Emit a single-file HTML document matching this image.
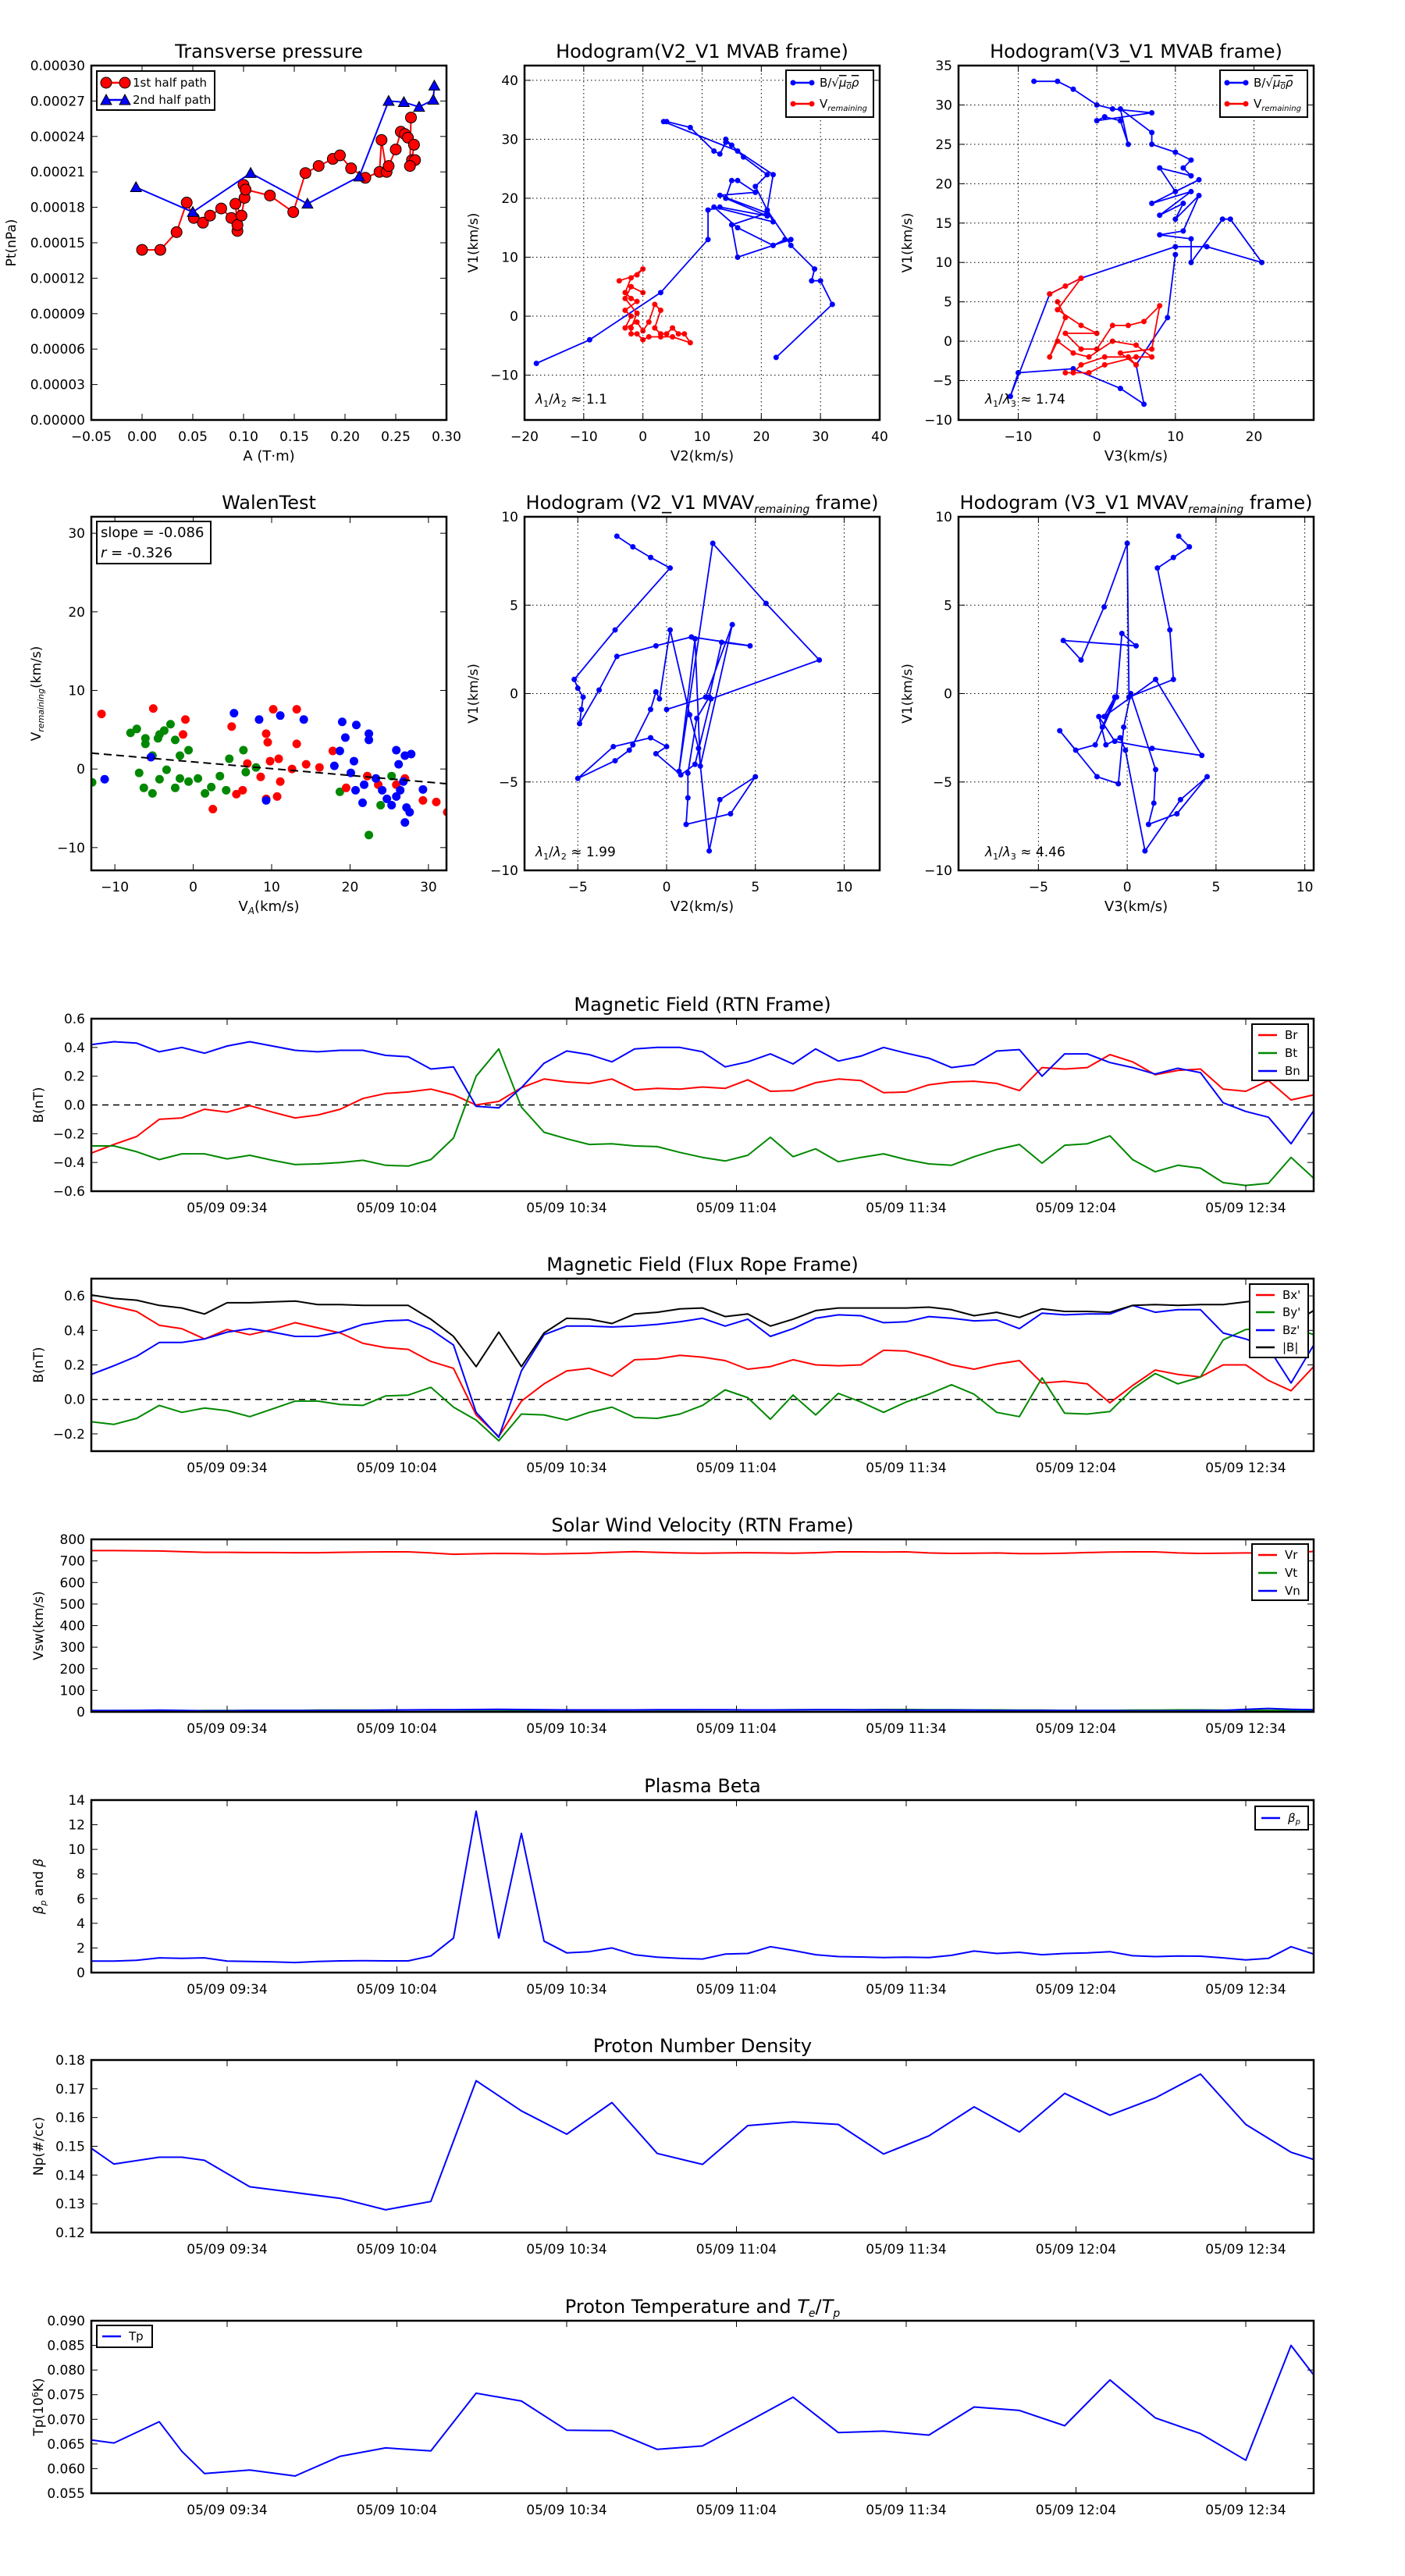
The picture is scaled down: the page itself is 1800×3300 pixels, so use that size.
<!DOCTYPE html>
<html><head><meta charset="utf-8"><style>
html,body{margin:0;padding:0;background:#fff}
svg{display:block;font-family:"DejaVu Sans","Liberation Sans",sans-serif}
</style></head><body>
<svg id="fig" xmlns="http://www.w3.org/2000/svg" width="1800" height="3300" viewBox="0 0 1800 3300">
<rect x="0" y="0" width="1800" height="3300" fill="#fff"/>
</svg>
<script>
// ---------- data ----------
const pt1A=[0.0,0.018,0.034,0.044,0.051,0.060,0.067,0.078,0.088,0.094,0.094,0.092,0.098,0.101,0.100,0.102,0.126,0.149,0.161,0.174,0.188,0.195,0.206,0.220,0.234,0.236,0.241,0.243,0.250,0.255,0.259,0.262,0.268,0.266,0.269,0.264,0.265];
const pt1P=[0.000144,0.000144,0.000159,0.000184,0.000171,0.000167,0.000173,0.000179,0.000171,0.000160,0.000165,0.000183,0.000173,0.000188,0.000199,0.000195,0.000190,0.000176,0.000209,0.000215,0.000221,0.000224,0.000213,0.000205,0.000210,0.000237,0.000210,0.000215,0.000229,0.000244,0.000242,0.000239,0.000233,0.000220,0.000220,0.000215,0.000256];
const pt2A=[-0.006,0.050,0.107,0.163,0.214,0.243,0.258,0.273,0.287,0.288];
const pt2P=[0.000197,0.000176,0.000209,0.000183,0.000206,0.000270,0.000269,0.000265,0.000271,0.000283];

const h2BV2=[-18,-9,3,11,11,13,21,14,15,16,19,13,21,15,16,22,24,25,22,16,12,22,19,21,17,14,15,14,13,12,8,4,3.5,16,22,21,25,29,28.5,30,32,22.5];
const h2BV1=[-8,-4,4,13,18,18.5,17,20,23,23,21,20.5,17.5,15.5,10,12,13,13,12,15,18.5,16,22,24,27,30,29,29.5,27.5,28,32,33,33,28,24,18,12,8,6,6,2,-7];
const h2VV2=[-4,-1,0,-2,-3,-2,-1,-3,-2,-3,-1,0,1,2,3,2,3,4,5,6,7,8,5,3,1,0,-1,-2,-2,-1,-3,-2,0];
const h2VV1=[6,7,8,6.5,4,3,2.5,1,0,-2,-1,-2.5,-1,2,1,-2,-3,-3,-2,-3,-3,-4.5,-3.5,-3.5,-3.5,-4,-3,-3,-2,0.5,3,5,4];

const h3BV3=[-8,-5,-3,0,2,7,0,1,3,4,3,7,7,10,12,11,12,8,10,13,7,12,8,11,10,13,11,8,12,12,16,17,21,14,10,-2,-6,-11,-10,-3,3,6,5,9,10];
const h3BV1=[33,33,32,30,29.5,29,28,28.5,28,25,29.5,26.5,25,24,23,22,21,22,19,20.5,17.5,19,16,17.5,15.5,18.5,14,13.5,13,10,15.5,15.5,10,12,12,8,6,-7,-4,-3.5,-6,-8,-3,3,11];
const h3VV3=[-6,-4,-2,-5,-2,0,-4,-2,0,2,4,6,8,7,3,5,4,1,-2,-3,-4,-1,1,5,7,5,2,-1,-3,-5,-6,-4,-5];
const h3VV1=[6,7,8,4,2,1,1,-1,-1,2,2,2.5,4.5,-1,-1.5,-3,-2,-2,-3,-4,-4,-4,-3,-2,-2,-0.5,0,-2,-1.5,0,-2,3,5];

const walGX=[-12.9,-8,-7.2,-6.1,-6.1,-4.3,-3.7,-2.9,-2.3,-1.7,-0.6,-4.5,-5.2,-6.9,-6.3,-5.2,-4.3,-3.4,-2.3,-1.7,-0.6,0.6,1.5,2.3,3.4,4.2,4.6,6.4,6.7,8,18.7,22.4,23.9,25.3];
const walGY=[-1.7,4.6,5.1,3.2,3.9,4.4,4.9,5.7,3.7,1.7,2.4,3.9,1.7,-0.5,-2.4,-3.1,-1.3,-0.1,-2.4,-1.2,-1.6,-1.2,-3.1,-2.3,-0.9,-2.7,1.3,2.4,-0.4,0.2,-2.9,-8.4,-4.6,-0.9];
const walRX=[-11.7,-5.1,-1.3,-1,2.5,4.9,5.5,6.3,6.9,9.3,9.5,10.2,9.8,10.9,11.1,10.7,12.6,13.2,13.2,14.4,16.1,17.8,19.5,22.2,23.6,25.9,27,29.3,31,32.4,8.6,9.3];
const walRY=[7,7.7,4.4,6.3,-5.1,5.4,-3.2,-2.7,0.7,4.5,3.4,7.6,1,1.3,-1.6,-3.5,0,3.2,7.6,0.6,0.2,2.3,-2.4,-0.9,-2,-2,-1.2,-4,-4.2,-5.5,-1,-3.8];
const walBX=[-11.3,-5.4,5.2,8.4,11.1,14.1,9.3,19,20.8,19.4,22.4,22.4,18.7,18,20.1,20.5,21.8,23.3,24.1,24.7,25.3,25.9,26.4,26.8,27.2,25.9,27,27.8,26.2,27,27.6,29.3,21.6,20.7];
const walBY=[-1.3,1.5,7.1,6.3,6.8,6.3,-4,6,5.6,4,4.5,3.7,2.3,0.4,-0.5,1,-2,-1.2,-2.7,-3.8,-4.6,-3.5,-2.7,-1.6,-4.9,2.4,1.7,1.9,0.6,-6.8,-5.5,-2.6,-4.3,-2.7];
const walSlope=-0.086, walIntercept=0.9;

const h5X=[-2.8,-1.9,-0.9,0.2,-2.9,-5.2,-5,-4.7,-4.8,-4.9,-3.8,-2.8,-0.6,1.4,4.7,3.1,2.4,1.7,1.2,1.2,1.1,3.6,5,3,2.4,1.8,1.3,0.2,-0.4,-0.6,-0.9,-1.9,-2.1,-2.9,-5,-3,-0.9,0,-0.6,0.8,1.6,2.5,8.6,5.6,2.6,0.7,1.6,1.9,3.7,2.2,0];
const h5Y=[8.9,8.3,7.7,7.1,3.6,0.8,0.3,-0.2,-0.9,-1.7,0.2,2.1,2.7,3.2,2.7,2.9,-0.2,-1.4,-4.5,-5.9,-7.4,-6.8,-4.7,-6,-8.9,-3.1,-1.2,3.6,-0.3,0.1,-0.9,-2.9,-3.2,-3.8,-4.8,-3,-2.5,-3,-3.4,-4.6,-4,-0.3,1.9,5.1,8.5,-4.4,3.1,-4.1,3.9,-0.2,-0.9];
const h6X=[2.9,3.5,2.6,1.7,2.4,2.6,0.1,0,-1.3,-2.6,-3.6,0.5,-0.3,-0.6,-1.8,-2.9,-3.8,-1.7,-0.5,-0.2,0.2,1.6,1.5,1.2,2.8,4.5,3,1,-0.1,-0.4,-1.2,-1.6,-0.7,1.4,4.2,1.6,-1.3,-0.7,-1.4];
const h6Y=[8.9,8.3,7.7,7.1,3.6,0.8,-0.2,8.5,4.9,1.9,3,2.7,3.4,-0.2,-2.9,-3.2,-2.1,-4.7,-5.1,-1.9,0,-4.3,-6.2,-7.4,-6.8,-4.7,-6,-8.9,-3.2,-2.5,-2.9,-1.3,-2.7,-3.1,-3.5,0.8,-1.3,-0.2,-1.9];

// time series (minutes after 09:10)
const magT=[0,4,8,12,16,20,24,28,32,36,40,44,48,52,56,60,64,68,72,76,80,84,88,92,96,100,104,108,112,116,120,124,128,132,136,140,144,148,152,156,160,164,168,172,176,180,184,188,192,196,200,204,208,212,216];
const Br=[-0.335,-0.275,-0.22,-0.10,-0.09,-0.03,-0.05,-0.005,-0.05,-0.09,-0.07,-0.03,0.045,0.08,0.09,0.11,0.07,0.0,0.025,0.12,0.18,0.16,0.15,0.18,0.105,0.115,0.11,0.125,0.115,0.175,0.095,0.10,0.155,0.18,0.17,0.085,0.09,0.14,0.16,0.165,0.15,0.10,0.26,0.25,0.26,0.35,0.30,0.21,0.24,0.25,0.11,0.095,0.17,0.035,0.07];
const Bt=[-0.285,-0.285,-0.325,-0.38,-0.34,-0.34,-0.375,-0.35,-0.385,-0.415,-0.41,-0.40,-0.385,-0.42,-0.425,-0.38,-0.23,0.20,0.39,-0.015,-0.19,-0.235,-0.275,-0.27,-0.285,-0.29,-0.33,-0.365,-0.39,-0.35,-0.225,-0.36,-0.305,-0.395,-0.365,-0.34,-0.38,-0.41,-0.42,-0.36,-0.31,-0.275,-0.405,-0.28,-0.27,-0.215,-0.38,-0.465,-0.42,-0.44,-0.54,-0.56,-0.545,-0.365,-0.51];
const Bn=[0.42,0.44,0.43,0.37,0.40,0.36,0.41,0.44,0.41,0.38,0.37,0.38,0.38,0.345,0.335,0.25,0.265,-0.01,-0.02,0.12,0.29,0.375,0.35,0.30,0.39,0.40,0.40,0.37,0.265,0.30,0.355,0.285,0.39,0.305,0.34,0.40,0.36,0.325,0.26,0.28,0.375,0.385,0.20,0.355,0.355,0.295,0.26,0.215,0.255,0.225,0.015,-0.045,-0.085,-0.27,-0.04];
const Bx=[0.575,0.54,0.51,0.43,0.41,0.35,0.405,0.375,0.405,0.445,0.415,0.385,0.325,0.30,0.29,0.22,0.18,-0.09,-0.215,-0.01,0.09,0.165,0.18,0.135,0.23,0.235,0.255,0.245,0.225,0.175,0.19,0.23,0.20,0.195,0.20,0.285,0.28,0.245,0.20,0.175,0.205,0.225,0.095,0.105,0.09,-0.02,0.08,0.17,0.145,0.13,0.20,0.20,0.11,0.05,0.19];
const By=[-0.13,-0.145,-0.11,-0.035,-0.075,-0.05,-0.065,-0.10,-0.055,-0.01,-0.01,-0.03,-0.035,0.02,0.025,0.07,-0.045,-0.12,-0.24,-0.085,-0.09,-0.12,-0.075,-0.045,-0.105,-0.11,-0.085,-0.035,0.055,0.01,-0.115,0.025,-0.09,0.035,-0.015,-0.075,-0.015,0.03,0.085,0.03,-0.075,-0.10,0.125,-0.08,-0.085,-0.07,0.06,0.15,0.09,0.13,0.345,0.405,0.415,0.42,0.375];
const Bz=[0.145,0.195,0.25,0.33,0.33,0.35,0.39,0.41,0.39,0.365,0.365,0.39,0.435,0.455,0.46,0.405,0.315,-0.075,-0.22,0.165,0.375,0.425,0.425,0.42,0.425,0.435,0.45,0.47,0.425,0.465,0.365,0.41,0.47,0.49,0.485,0.445,0.45,0.48,0.47,0.455,0.46,0.41,0.50,0.49,0.495,0.495,0.545,0.505,0.52,0.52,0.385,0.35,0.30,0.095,0.315];
const Bmag=[0.605,0.585,0.575,0.545,0.53,0.495,0.56,0.56,0.565,0.57,0.55,0.55,0.545,0.545,0.545,0.465,0.365,0.19,0.39,0.19,0.385,0.47,0.465,0.44,0.495,0.505,0.525,0.53,0.48,0.495,0.425,0.465,0.515,0.53,0.53,0.53,0.53,0.535,0.52,0.485,0.505,0.475,0.525,0.51,0.51,0.505,0.545,0.55,0.545,0.55,0.55,0.565,0.58,0.435,0.515];
const Vr=[748,748,747,746,743,740,740,739,739,738,738,740,741,742,742,737,731,733,735,734,732,734,736,740,743,740,737,736,737,738,737,736,738,742,742,741,742,737,735,736,737,734,734,736,739,741,742,742,737,735,736,737,736,738,744];
const Vt=[4,4,4,5,5,6,6,7,7,7,8,8,8,8,9,9,9,8,8,7,7,7,7,8,8,8,8,9,9,9,9,10,10,10,10,11,11,10,10,9,9,8,8,7,7,7,8,8,9,9,8,7,7,6,6];
const Vn=[6,6,7,8,7,5,5,6,6,6,6,7,7,8,9,10,10,11,12,11,10,9,9,9,9,10,10,10,10,9,9,9,10,10,9,9,8,8,8,8,7,7,7,6,6,6,5,5,5,6,7,12,16,12,10];
const betaP=[0.93,0.93,1.0,1.2,1.15,1.2,0.93,0.9,0.87,0.82,0.9,0.95,0.97,0.95,0.95,1.35,2.8,13.1,2.8,11.3,2.55,1.6,1.7,2.0,1.45,1.25,1.15,1.1,1.5,1.55,2.1,1.8,1.45,1.3,1.27,1.22,1.25,1.22,1.4,1.75,1.55,1.65,1.45,1.55,1.6,1.7,1.37,1.3,1.35,1.33,1.2,1.03,1.15,2.1,1.5];
const npT=[0,4,12,16,20,28,36,44,52,60,68,76,84,92,100,108,116,124,132,140,148,156,164,172,180,188,196,204,212,216];
const Np=[0.1493,0.1438,0.1462,0.1462,0.1451,0.1359,0.1339,0.1319,0.1279,0.1308,0.1728,0.1623,0.1542,0.1652,0.1475,0.1437,0.1572,0.1585,0.1576,0.1473,0.1536,0.1637,0.155,0.1684,0.1608,0.1668,0.1751,0.1576,0.1479,0.1454];
const Tp=[0.0658,0.0652,0.0695,0.0635,0.059,0.0597,0.0585,0.0625,0.0642,0.0636,0.0753,0.0737,0.0678,0.0677,0.0639,0.0646,0.0695,0.0745,0.0673,0.0676,0.0668,0.0725,0.0718,0.0687,0.078,0.0703,0.0671,0.0617,0.085,0.079];
const timeTicks=[24,54,84,114,144,174,204];
const timeTickLabels=["05/09 09:34","05/09 10:04","05/09 10:34","05/09 11:04","05/09 11:34","05/09 12:04","05/09 12:34"];

// ---------- helpers ----------
const NS='http://www.w3.org/2000/svg';
const svg=document.getElementById('fig');
function mk(tag,attrs,parent){const e=document.createElementNS(NS,tag);for(const k in attrs)e.setAttribute(k,attrs[k]);(parent||svg).appendChild(e);return e;}
function txt(s,attrs,parent){const e=mk('text',attrs,parent);e.textContent=s;return e;}
function fm(v,d){const s=Math.abs(v).toFixed(d);return (v<0&&parseFloat(s)!==0?'\u2212':'')+s;}
let clipN=0;

function makeAxes(o){
  const g=mk('g',{});
  
  
  const X=v=>o.x0+(v-o.xmin)/(o.xmax-o.xmin)*o.w;
  const Y=v=>o.y0+o.h-(v-o.ymin)/(o.ymax-o.ymin)*o.h;
  const cid='clip'+(clipN++);
  const cp=mk('clipPath',{id:cid},g);
  mk('rect',{x:o.x0,y:o.y0,width:o.w,height:o.h},cp);
  const plot=mk('g',{'clip-path':'url(#'+cid+')'},g);
  
  
  return {o,g,X,Y,plot};
}
function finishAxes(ax){
  const o=ax.o,g=ax.g;
  (o.xticks||[]).forEach((v,i)=>{
    const x=ax.X(v);
    if(o.grid){const gl=mk('line',{x1:x,x2:x,y1:o.y0,y2:o.y0+o.h,stroke:'#000','stroke-width':1,'stroke-dasharray':'1.5,3.5'},g);
      }
    const t1=mk('line',{x1:x,x2:x,y1:o.y0+o.h,y2:o.y0+o.h-8,stroke:'#000','stroke-width':1},g);
    
    const t2=mk('line',{x1:x,x2:x,y1:o.y0,y2:o.y0+8,stroke:'#000','stroke-width':1},g);
    
    const lb=txt(o.xlabels[i],{x:x,y:o.y0+o.h+27,'text-anchor':'middle','font-size':17},g);
    
  });
  (o.yticks||[]).forEach((v,i)=>{
    const y=ax.Y(v);
    if(o.grid){const gl=mk('line',{x1:o.x0,x2:o.x0+o.w,y1:y,y2:y,stroke:'#000','stroke-width':1,'stroke-dasharray':'1.5,3.5'},g);
      }
    const t1=mk('line',{x1:o.x0,x2:o.x0+8,y1:y,y2:y,stroke:'#000','stroke-width':1},g);
    
    const t2=mk('line',{x1:o.x0+o.w,x2:o.x0+o.w-8,y1:y,y2:y,stroke:'#000','stroke-width':1},g);
    
    const lb=txt(o.ylabels[i],{x:o.x0-8,y:y+6,'text-anchor':'end','font-size':17},g);
    
  });
  const fr=mk('rect',{x:o.x0,y:o.y0,width:o.w,height:o.h,fill:'none',stroke:'#000','stroke-width':2.5},g);
  
  if(o.title){const t=txt('',{x:o.x0+o.w/2,y:o.y0-10,'text-anchor':'middle','font-size':24},g);
    t.innerHTML=o.title;
    }
  if(o.xlabel){const t=txt('',{x:o.x0+o.w/2,y:o.y0+o.h+o.xlabOff,'text-anchor':'middle','font-size':18},g);
    t.innerHTML=o.xlabel;
    }
  if(o.ylabel){const yl=o.ylabX, yc=o.y0+o.h/2;
    const t=txt('',{x:yl,y:yc,'text-anchor':'middle','font-size':17,transform:'rotate(-90 '+yl+' '+yc+')'},g);
    t.innerHTML=o.ylabel;
    }
}
function line(ax,xs,ys,color,name,w){
  const d=xs.map((x,i)=>(i?'L':'M')+ax.X(x).toFixed(1)+','+ax.Y(ys[i]).toFixed(1)).join('');
  const p=mk('path',{d:d,fill:'none',stroke:color,'stroke-width':w||2,'stroke-linejoin':'round'},ax.plot);
  
  
  return p;
}
function dots(ax,xs,ys,color,r,name,stroke){
  xs.forEach((x,i)=>{
    const c=mk('circle',{cx:ax.X(x),cy:ax.Y(ys[i]),r:r,fill:color,stroke:stroke||'none','stroke-width':1},ax.plot);
    
    
  });
}
function tris(ax,xs,ys,color,s,name){
  xs.forEach((x,i)=>{
    const cx=ax.X(x),cy=ax.Y(ys[i]);
    const p=mk('polygon',{points:`${cx},${cy-s} ${cx-s},${cy+s*0.8} ${cx+s},${cy+s*0.8}`,fill:color,stroke:'#000','stroke-width':1},ax.plot);
    
    
  });
}
function legendBox(x,y,w,h,name){
  const r=mk('rect',{x:x,y:y,width:w,height:h,fill:'#fff',stroke:'#000','stroke-width':2});
  
  
}
function legendEntry(x,y,color,label,marker){
  const l=mk('line',{x1:x,x2:x+24,y1:y,y2:y,stroke:color,'stroke-width':2.5});
  
  
  if(marker==='dot'){[x,x+24].forEach(cx=>{const c=mk('circle',{cx:cx,cy:y,r:3.5,fill:color});
    });}
  if(marker==='circ'){[x,x+24].forEach(cx=>{const c=mk('circle',{cx:cx,cy:y,r:7,fill:color,stroke:'#000'});
    });}
  if(marker==='tri'){[x,x+24].forEach(cx=>{const p=mk('polygon',{points:`${cx},${y-7} ${cx-7},${y+6} ${cx+7},${y+6}`,fill:color,stroke:'#000'});
    });}
  const t=txt('',{x:x+34,y:y+5,'font-size':15});
  t.innerHTML=label;
  
  
}
function ticksRange(a,b,s){const r=[];for(let v=a;v<=b+1e-9;v+=s)r.push(+v.toFixed(6));return r;}

// ---------- panel 1: transverse pressure ----------
{
 const yt=ticksRange(0,0.0003,0.00003);
 const xt=ticksRange(-0.05,0.30,0.05);
 const ax=makeAxes({name:'transverse-pressure-chart',x0:117,y0:84,w:455,h:454,xmin:-0.05,xmax:0.30,ymin:0,ymax:0.0003,
   xticks:xt,xlabels:xt.map(v=>fm(v,2)),yticks:yt,ylabels:yt.map(v=>v.toFixed(5)),
   title:'Transverse pressure',xlabel:'A (T·m)',xlabOff:52,ylabel:'Pt(nPa)',ylabX:20});
 line(ax,pt1A,pt1P,'#f00','first-half-path-line',2);
 dots(ax,pt1A,pt1P,'#f00',7,'first-half-point','#000');
 line(ax,pt2A,pt2P,'#00f','second-half-path-line',2);
 tris(ax,pt2A,pt2P,'#00f',7,'second-half-point');
 finishAxes(ax);
 legendBox(124,91,151,50,'pressure-legend');
 legendEntry(136,106,'#f00','1st half path','circ');
 legendEntry(136,128,'#00f','2nd half path','tri');
}
const legB='B/√<tspan text-decoration="overline" font-style="italic">μ<tspan font-size="10" dy="3">0</tspan><tspan dy="-3">ρ</tspan></tspan>';
const legV='V<tspan font-size="10" font-style="italic" dy="4">remaining</tspan>';
// ---------- panel 2 ----------
{
 const xt=ticksRange(-20,40,10), yt=ticksRange(-10,40,10);
 const ax=makeAxes({name:'hodogram-v2-v1-mvab',x0:672,y0:84,w:455,h:454,xmin:-20,xmax:40,ymin:-17.6,ymax:42.5,grid:true,
   xticks:xt,xlabels:xt.map(v=>fm(v,0)),yticks:yt,ylabels:yt.map(v=>fm(v,0)),
   title:'Hodogram(V2_V1 MVAB frame)',xlabel:'V2(km/s)',xlabOff:52,ylabel:'V1(km/s)',ylabX:612});
 line(ax,h2BV2,h2BV1,'#00f','b-field-hodogram-line',1.8);
 dots(ax,h2BV2,h2BV1,'#00f',3.5,'b-field-point');
 line(ax,h2VV2,h2VV1,'#f00','v-remaining-hodogram-line',1.8);
 dots(ax,h2VV2,h2VV1,'#f00',3.5,'v-remaining-point');
 finishAxes(ax);
 const a=txt('',{x:686,y:517,'font-size':17});a.innerHTML='<tspan font-style="italic">λ</tspan><tspan font-size="11" dy="4">1</tspan><tspan dy="-4">/</tspan><tspan font-style="italic">λ</tspan><tspan font-size="11" dy="4">2</tspan><tspan dy="-4"> ≈ 1.1</tspan>';
 
 legendBox(1007,90,112,60,'hodogram-legend');
 legendEntry(1016,106,'#00f',legB,'dot');
 legendEntry(1016,133,'#f00',legV,'dot');
}
// ---------- panel 3 ----------
{
 const xt=ticksRange(-10,20,10), yt=ticksRange(-10,35,5);
 const ax=makeAxes({name:'hodogram-v3-v1-mvab',x0:1228,y0:84,w:455,h:454,xmin:-17.6,xmax:27.6,ymin:-10,ymax:35,grid:true,
   xticks:xt,xlabels:xt.map(v=>fm(v,0)),yticks:yt,ylabels:yt.map(v=>fm(v,0)),
   title:'Hodogram(V3_V1 MVAB frame)',xlabel:'V3(km/s)',xlabOff:52,ylabel:'V1(km/s)',ylabX:1168});
 line(ax,h3BV3,h3BV1,'#00f','b-field-hodogram-line',1.8);
 dots(ax,h3BV3,h3BV1,'#00f',3.5,'b-field-point');
 line(ax,h3VV3,h3VV1,'#f00','v-remaining-hodogram-line',1.8);
 dots(ax,h3VV3,h3VV1,'#f00',3.5,'v-remaining-point');
 finishAxes(ax);
 const a=txt('',{x:1262,y:517,'font-size':17});a.innerHTML='<tspan font-style="italic">λ</tspan><tspan font-size="11" dy="4">1</tspan><tspan dy="-4">/</tspan><tspan font-style="italic">λ</tspan><tspan font-size="11" dy="4">3</tspan><tspan dy="-4"> ≈ 1.74</tspan>';
 
 legendBox(1563,90,112,60,'hodogram-legend');
 legendEntry(1572,106,'#00f',legB,'dot');
 legendEntry(1572,133,'#f00',legV,'dot');
}
// ---------- walen test ----------
{
 const xt=ticksRange(-10,30,10), yt=ticksRange(-10,30,10);
 const ax=makeAxes({name:'walen-test-chart',x0:117,y0:662,w:455,h:453,xmin:-13,xmax:32.3,ymin:-12.9,ymax:32.1,
   xticks:xt,xlabels:xt.map(v=>fm(v,0)),yticks:yt,ylabels:yt.map(v=>fm(v,0)),
   title:'WalenTest',xlabel:'V<tspan font-size="12" font-style="italic" dy="4">A</tspan><tspan dy="-4">(km/s)</tspan>',xlabOff:52,
   ylabel:'V<tspan font-size="11" font-style="italic" dy="4">remaining</tspan><tspan dy="-4">(km/s)</tspan>',ylabX:52});
 dots(ax,walGX,walGY,'#080',5.5,'walen-point-green');
 dots(ax,walRX,walRY,'#f00',5.5,'walen-point-red');
 dots(ax,walBX,walBY,'#00f',5.5,'walen-point-blue');
 const fx=[-13,32.3], fy=fx.map(v=>walSlope*v+walIntercept);
 const fl=line(ax,fx,fy,'#000','walen-fit-line',2);
 fl.setAttribute('stroke-dasharray','10,6');
 finishAxes(ax);
 legendBox(124,668,146,54,'walen-stats-box');
 const s1=txt('slope = -0.086',{x:129,y:688,'font-size':18});
 
 const s2=txt('',{x:129,y:714,'font-size':18});s2.innerHTML='<tspan font-style="italic">r</tspan> = -0.326';
 
}
// ---------- panel 5 ----------
{
 const xt=ticksRange(-5,10,5), yt=ticksRange(-10,10,5);
 const ax=makeAxes({name:'hodogram-v2-v1-mvav',x0:672,y0:662,w:455,h:453,xmin:-8,xmax:12,ymin:-10,ymax:10,grid:true,
   xticks:xt,xlabels:xt.map(v=>fm(v,0)),yticks:yt,ylabels:yt.map(v=>fm(v,0)),
   title:'Hodogram (V2_V1 MVAV<tspan font-size="14" font-style="italic" dy="5">remaining</tspan><tspan dy="-5"> frame)</tspan>',ylabel:'V1(km/s)',ylabX:612,
   xlabel:'V2(km/s)',xlabOff:52});
 line(ax,h5X,h5Y,'#00f','hodogram-line',1.8);
 dots(ax,h5X,h5Y,'#00f',3.5,'hodogram-point');
 finishAxes(ax);
 const a=txt('',{x:686,y:1097,'font-size':17});a.innerHTML='<tspan font-style="italic">λ</tspan><tspan font-size="11" dy="4">1</tspan><tspan dy="-4">/</tspan><tspan font-style="italic">λ</tspan><tspan font-size="11" dy="4">2</tspan><tspan dy="-4"> ≈ 1.99</tspan>';
 
}
// ---------- panel 6 ----------
{
 const xt=ticksRange(-5,10,5), yt=ticksRange(-10,10,5);
 const ax=makeAxes({name:'hodogram-v3-v1-mvav',x0:1228,y0:662,w:455,h:453,xmin:-9.5,xmax:10.5,ymin:-10,ymax:10,grid:true,
   xticks:xt,xlabels:xt.map(v=>fm(v,0)),yticks:yt,ylabels:yt.map(v=>fm(v,0)),
   title:'Hodogram (V3_V1 MVAV<tspan font-size="14" font-style="italic" dy="5">remaining</tspan><tspan dy="-5"> frame)</tspan>',ylabel:'V1(km/s)',ylabX:1168,
   xlabel:'V3(km/s)',xlabOff:52});
 line(ax,h6X,h6Y,'#00f','hodogram-line',1.8);
 dots(ax,h6X,h6Y,'#00f',3.5,'hodogram-point');
 finishAxes(ax);
 const a=txt('',{x:1262,y:1097,'font-size':17});a.innerHTML='<tspan font-style="italic">λ</tspan><tspan font-size="11" dy="4">1</tspan><tspan dy="-4">/</tspan><tspan font-style="italic">λ</tspan><tspan font-size="11" dy="4">3</tspan><tspan dy="-4"> ≈ 4.46</tspan>';
 
}
// ---------- time series ----------
function tsAxes(name,top,ymin,ymax,yt,yl,title,ylabel){
  return makeAxes({name:name,x0:117,y0:top,w:1566,h:221,xmin:0,xmax:216,ymin:ymin,ymax:ymax,
    xticks:timeTicks,xlabels:timeTickLabels,yticks:yt,ylabels:yl,title:title,ylabel:ylabel,ylabX:55});
}
function zeroLine(ax){const l=line(ax,[0,216],[0,0],'#000','zero-reference-line',1.5);l.setAttribute('stroke-dasharray','8,6');}
{
 const yt=ticksRange(-0.6,0.6,0.2);
 const ax=tsAxes('magnetic-field-rtn-chart',1305,-0.6,0.6,yt,yt.map(v=>fm(v,1)),'Magnetic Field (RTN Frame)','B(nT)');
 zeroLine(ax);
 line(ax,magT,Br,'#f00','br-line');line(ax,magT,Bt,'#080','bt-line');line(ax,magT,Bn,'#00f','bn-line');
 finishAxes(ax);
 legendBox(1604,1312,72,72,'rtn-legend');
 legendEntry(1612,1326,'#f00','Br');legendEntry(1612,1349,'#080','Bt');legendEntry(1612,1372,'#00f','Bn');
}
{
 const yt=ticksRange(-0.2,0.6,0.2);
 const ax=tsAxes('magnetic-field-flux-rope-chart',1638,-0.3,0.7,yt,yt.map(v=>fm(v,1)),'Magnetic Field (Flux Rope Frame)','B(nT)');
 zeroLine(ax);
 line(ax,magT,Bx,'#f00','bx-line');line(ax,magT,By,'#080','by-line');line(ax,magT,Bz,'#00f','bz-line');line(ax,magT,Bmag,'#000','bmag-line');
 finishAxes(ax);
 legendBox(1601,1645,75,94,'flux-rope-legend');
 legendEntry(1609,1659,'#f00',"Bx'");legendEntry(1609,1681,'#080',"By'");legendEntry(1609,1704,'#00f',"Bz'");legendEntry(1609,1726,'#000','|B|');
}
{
 const yt=ticksRange(0,800,100);
 const ax=tsAxes('solar-wind-velocity-chart',1972,0,800,yt,yt.map(v=>v.toFixed(0)),'Solar Wind Velocity (RTN Frame)','Vsw(km/s)');
 line(ax,magT,Vr,'#f00','vr-line');line(ax,magT,Vt,'#080','vt-line');line(ax,magT,Vn,'#00f','vn-line');
 finishAxes(ax);
 legendBox(1604,1978,72,72,'velocity-legend');
 legendEntry(1612,1992,'#f00','Vr');legendEntry(1612,2015,'#080','Vt');legendEntry(1612,2038,'#00f','Vn');
}
{
 const yt=ticksRange(0,14,2);
 const ax=tsAxes('plasma-beta-chart',2306,0,14,yt,yt.map(v=>v.toFixed(0)),'Plasma Beta','<tspan font-style="italic">β</tspan><tspan font-size="11" font-style="italic" dy="4">p</tspan><tspan dy="-4"> and </tspan><tspan font-style="italic">β</tspan>');
 line(ax,magT,betaP,'#00f','beta-p-line');
 finishAxes(ax);
 legendBox(1608,2314,68,30,'beta-legend');
 legendEntry(1616,2329,'#00f','<tspan font-style="italic">β</tspan><tspan font-size="10" font-style="italic" dy="3">p</tspan>');
}
{
 const yt=ticksRange(0.12,0.18,0.01);
 const ax=tsAxes('proton-density-chart',2639,0.12,0.18,yt,yt.map(v=>v.toFixed(2)),'Proton Number Density','Np(#/cc)');
 line(ax,npT,Np,'#00f','np-line');
 finishAxes(ax);
}
{
 const yt=ticksRange(0.055,0.090,0.005);
 const ax=tsAxes('proton-temperature-chart',2973,0.055,0.090,yt,yt.map(v=>v.toFixed(3)),'Proton Temperature and <tspan font-style="italic">T</tspan><tspan font-size="14" font-style="italic" dy="5">e</tspan><tspan dy="-5">/</tspan><tspan font-style="italic">T</tspan><tspan font-size="14" font-style="italic" dy="5">p</tspan>','Tp(10<tspan font-size="11" dy="-6">6</tspan><tspan dy="6">K)</tspan>');
 line(ax,npT,Tp,'#00f','tp-line');
 finishAxes(ax);
 legendBox(124,2979,71,28,'tp-legend');
 legendEntry(131,2993,'#00f','Tp');
}
</script>
</body></html>
